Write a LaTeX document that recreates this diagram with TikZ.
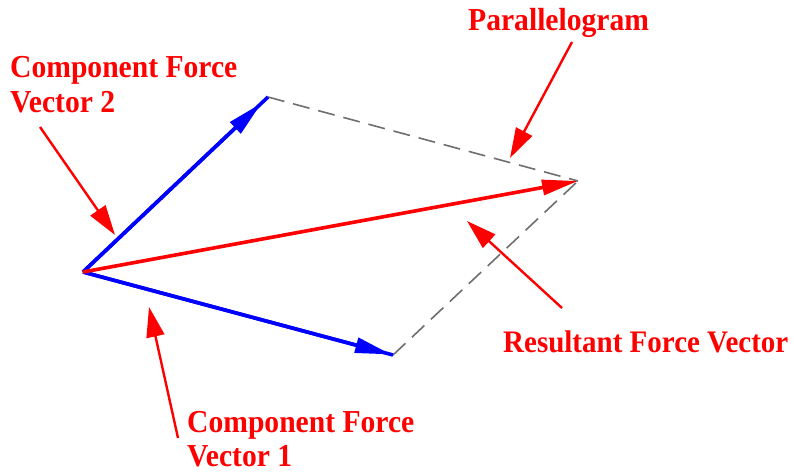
\documentclass[tikz,border=0pt]{standalone}
\usepackage{fontspec}
\usepackage{graphicx}
\setmainfont{Liberation Serif}
\usetikzlibrary{arrows.meta,calc}
\definecolor{dashgray}{RGB}{110,110,110}
\newcommand{\tallbox}[1]{\scalebox{1}[1.08]{#1}}
\tikzset{
  vec/.style={line width=3.6pt},
  vhead/.style={-{Triangle[length=36pt,width=15pt]}},
  para/.style={dashgray,line width=1.6pt,dash pattern=on 17pt off 9pt},
  callout/.style={red,line width=2.4pt,-{Triangle[length=30pt,width=18pt]}},
  lbl/.style={red,font=\bfseries\fontsize{29.6}{34}\selectfont,inner sep=0pt,anchor=base west}
}
\begin{document}
\begin{tikzpicture}[x=1pt,y=-1pt]
\useasboundingbox (0,0) rectangle (794,473);
% vector points
\coordinate (O) at (83,272);
\coordinate (B) at (268,97);
\coordinate (C) at (393,355);
\coordinate (R) at (578,181);
% parallelogram sides
\draw[para] (B) -- (R);
\draw[para] (C) -- (R);
% component vectors
\draw[vec,blue] (O) -- (B);
\draw[vec,blue,vhead] (O) -- ($(B)!9pt!(O)$);
\draw[vec,blue] (O) -- (C);
\draw[vec,blue,vhead] (O) -- ($(C)!2pt!(O)$);
% resultant
\draw[vec,red,vhead] (O) -- (R);
% labels
\node[lbl] (l2a) at (10,78) {\tallbox{Component Force}};
\node[lbl] (l2b) at (10,113) {\tallbox{Vector 2}};
\node[lbl] (lp) at (468,31) {\tallbox{Parallelogram}};
\node[lbl] (l1a) at (187,432) {\tallbox{Component Force}};
\node[lbl] (l1b) at (187,466) {\tallbox{Vector 1}};
\node[lbl,font=\bfseries\fontsize{29}{34}\selectfont] (lr) at (503,352) {\tallbox{Resultant Force Vector}};
% callout arrows
\coordinate (a2s) at (40,127);  \coordinate (a2e) at (115,235);
\coordinate (aps) at (572,42);  \coordinate (ape) at (510,158);
\coordinate (a1s) at (178,438); \coordinate (a1e) at (149,307);
\coordinate (ars) at (562,308); \coordinate (are) at (467,221);
\draw[callout] (a2s) -- (a2e);
\draw[callout] (aps) -- (ape);
\draw[callout] (a1s) -- (a1e);
\draw[callout] (ars) -- (are);
\end{tikzpicture}
\end{document}
